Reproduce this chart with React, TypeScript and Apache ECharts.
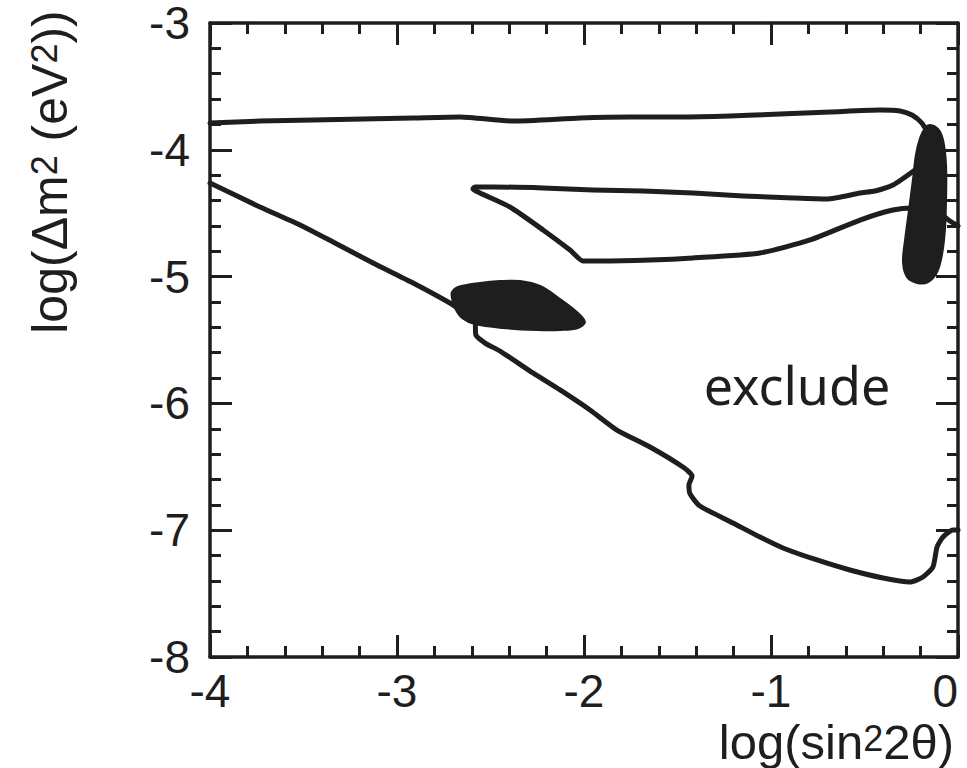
import React, { useEffect, useRef } from "react";
import * as echarts from "echarts";

// x: log(sin^2 2θ), y: log(Δm^2 (eV^2))
const xTicks = [-4, -3, -2, -1, 0];
const yTicks = [-8, -7, -6, -5, -4, -3];

const upperBoundary: [number, number][] = [
  [-4.0, -3.789], [-3.733, -3.773], [-3.449, -3.765], [-2.914, -3.749], [-2.663, -3.741],
  [-2.38, -3.773], [-2.021, -3.749], [-1.754, -3.741], [-1.487, -3.741], [-1.219, -3.733],
  [-0.952, -3.718], [-0.684, -3.702], [-0.417, -3.686], [-0.31, -3.694], [-0.246, -3.726],
  [-0.193, -3.789], [-0.16, -3.868],
];

const innerLoop: [number, number][] = [
  [-0.23, -4.159], [-0.348, -4.278], [-0.444, -4.325], [-0.524, -4.341], [-0.701, -4.388],
  [-0.882, -4.38], [-1.15, -4.364], [-1.417, -4.341], [-1.684, -4.325], [-1.952, -4.317],
  [-2.219, -4.301], [-2.487, -4.293], [-2.583, -4.293], [-2.594, -4.309], [-2.556, -4.341],
  [-2.396, -4.451], [-2.219, -4.632], [-2.075, -4.79], [-2.005, -4.877], [-1.914, -4.877],
  [-1.647, -4.869], [-1.417, -4.853], [-1.059, -4.814], [-0.791, -4.711], [-0.524, -4.554],
  [-0.348, -4.475], [-0.241, -4.459], [-0.123, -4.475], [-0.043, -4.562], [0.0, -4.601],
];

const lowerBoundary: [number, number][] = [
  [-4.0, -4.262], [-3.733, -4.451], [-3.519, -4.593], [-3.342, -4.727], [-3.128, -4.893],
  [-2.914, -5.05], [-2.717, -5.208], [-2.663, -5.263], [-2.583, -5.358], [-2.578, -5.461],
  [-2.529, -5.524], [-2.449, -5.587], [-2.273, -5.76], [-2.128, -5.894], [-1.968, -6.052],
  [-1.824, -6.21], [-1.647, -6.344], [-1.471, -6.502], [-1.422, -6.573], [-1.439, -6.644],
  [-1.433, -6.714], [-1.38, -6.809], [-1.203, -6.943], [-1.059, -7.054], [-0.936, -7.14],
  [-0.754, -7.235], [-0.578, -7.314], [-0.401, -7.377], [-0.257, -7.409], [-0.187, -7.369],
  [-0.134, -7.29], [-0.112, -7.132], [-0.08, -7.054], [-0.027, -6.998], [0.0, -6.998],
];

const blobLeft: [number, number][] = [
  [-2.706, -5.121], [-2.674, -5.082], [-2.556, -5.05], [-2.449, -5.035], [-2.342, -5.035],
  [-2.235, -5.074], [-2.128, -5.177], [-2.032, -5.287], [-1.995, -5.358], [-2.032, -5.405],
  [-2.128, -5.421], [-2.251, -5.421], [-2.433, -5.405], [-2.583, -5.374], [-2.652, -5.326],
  [-2.69, -5.248], [-2.706, -5.169],
];

const blobRight: [number, number][] = [
  [-0.15, -3.804], [-0.107, -3.836], [-0.08, -3.923], [-0.064, -4.12], [-0.064, -4.396],
  [-0.07, -4.632], [-0.086, -4.83], [-0.112, -4.964], [-0.16, -5.043], [-0.219, -5.05],
  [-0.273, -5.003], [-0.294, -4.885], [-0.283, -4.711], [-0.262, -4.475], [-0.241, -4.238],
  [-0.225, -4.041], [-0.203, -3.907], [-0.176, -3.828],
];

const regionLabel = "exclude";
const INK = "#1e1e1e";
const FONT = "'Liberation Sans', Arial, Helvetica, sans-serif";

function lineSeries(name: string, data: [number, number][]) {
  return {
    name,
    type: "line",
    data,
    xAxisIndex: 0,
    yAxisIndex: 0,
    showSymbol: false,
    symbol: "none",
    smooth: 0.2,
    z: 3,
    lineStyle: { color: INK, width: 5, cap: "round", join: "round" },
  };
}

function blobSeries(name: string, pts: [number, number][]) {
  return {
    name,
    type: "custom",
    xAxisIndex: 0,
    yAxisIndex: 0,
    z: 4,
    silent: true,
    data: [pts[0]],
    renderItem: (_params: any, api: any) => ({
      type: "polygon",
      shape: { points: pts.map((p) => api.coord(p)), smooth: 0.35 },
      style: { fill: INK, stroke: INK, lineWidth: 2 },
    }),
  };
}

const tickLine = { color: INK, width: 3 };

function makeX(position: "bottom" | "top", labels: boolean) {
  return {
    type: "value",
    position,
    min: xTicks[0],
    max: xTicks[xTicks.length - 1],
    interval: 1,
    axisLine: { show: true, onZero: false, lineStyle: { color: INK, width: 3.5 } },
    axisTick: { show: true, inside: true, length: 22, lineStyle: tickLine },
    minorTick: { show: true, splitNumber: 5, length: 11, lineStyle: tickLine },
    splitLine: { show: false },
    minorSplitLine: { show: false },
    axisLabel: {
      show: labels,
      fontSize: 46,
      lineHeight: 38,
      color: INK,
      fontFamily: FONT,
      margin: 15,
      alignMaxLabel: "right",
    },
  };
}

function makeY(position: "left" | "right", labels: boolean) {
  return {
    type: "value",
    position,
    min: yTicks[0],
    max: yTicks[yTicks.length - 1],
    interval: 1,
    axisLine: { show: true, onZero: false, lineStyle: { color: INK, width: 3.5 } },
    axisTick: { show: true, inside: true, length: 22, lineStyle: tickLine },
    minorTick: { show: true, splitNumber: 5, length: 11, lineStyle: tickLine },
    splitLine: { show: false },
    minorSplitLine: { show: false },
    axisLabel: {
      show: labels,
      fontSize: 46,
      lineHeight: 38,
      color: INK,
      fontFamily: FONT,
      margin: 20,
    },
  };
}

export default function App() {
  const ref = useRef<HTMLDivElement>(null);
  useEffect(() => {
    if (!ref.current) return;
    const chart = echarts.init(ref.current, undefined, { renderer: "svg" });
    const sup = { fontSize: 36, lineHeight: 34, verticalAlign: "top", fontFamily: FONT, fill: INK };
    chart.setOption({
      animation: false,
      backgroundColor: "#ffffff",
      grid: { left: 210, right: 9, top: 23, bottom: 111, outerBoundsMode: "none" },
      xAxis: [makeX("bottom", true), makeX("top", false)],
      yAxis: [makeY("left", true), makeY("right", false)],
      series: [
        lineSeries("upper", upperBoundary),
        lineSeries("inner", innerLoop),
        lineSeries("lower", lowerBoundary),
        blobSeries("blobLeft", blobLeft),
        blobSeries("blobRight", blobRight),
      ],
      graphic: [
        {
          type: "text",
          x: 954,
          y: 742,
          style: {
            text: "log(sin{s|2}2θ)",
            fontSize: 49,
            lineHeight: 44,
            fontFamily: FONT,
            fill: INK,
            align: "right",
            verticalAlign: "middle",
            rich: { s: sup },
          },
        },
        {
          type: "text",
          x: 50,
          y: 172,
          rotation: Math.PI / 2,
          style: {
            text: "log(Δm{s|2} (eV{s|2}))",
            fontSize: 50,
            lineHeight: 48,
            fontFamily: FONT,
            fill: INK,
            align: "center",
            verticalAlign: "middle",
            rich: { s: sup },
          },
        },
        {
          type: "text",
          x: 797,
          y: 384,
          style: {
            text: regionLabel,
            fontSize: 52,
            fontFamily: "'Noto Sans', 'DejaVu Sans', sans-serif",
            fill: INK,
            align: "center",
            verticalAlign: "middle",
          },
        },
      ],
    });
    return () => chart.dispose();
  }, []);
  return (
    <div
      ref={ref}
      style={{ position: "absolute", left: 0, top: 0, width: 967, height: 768, background: "#fff" }}
    />
  );
}
